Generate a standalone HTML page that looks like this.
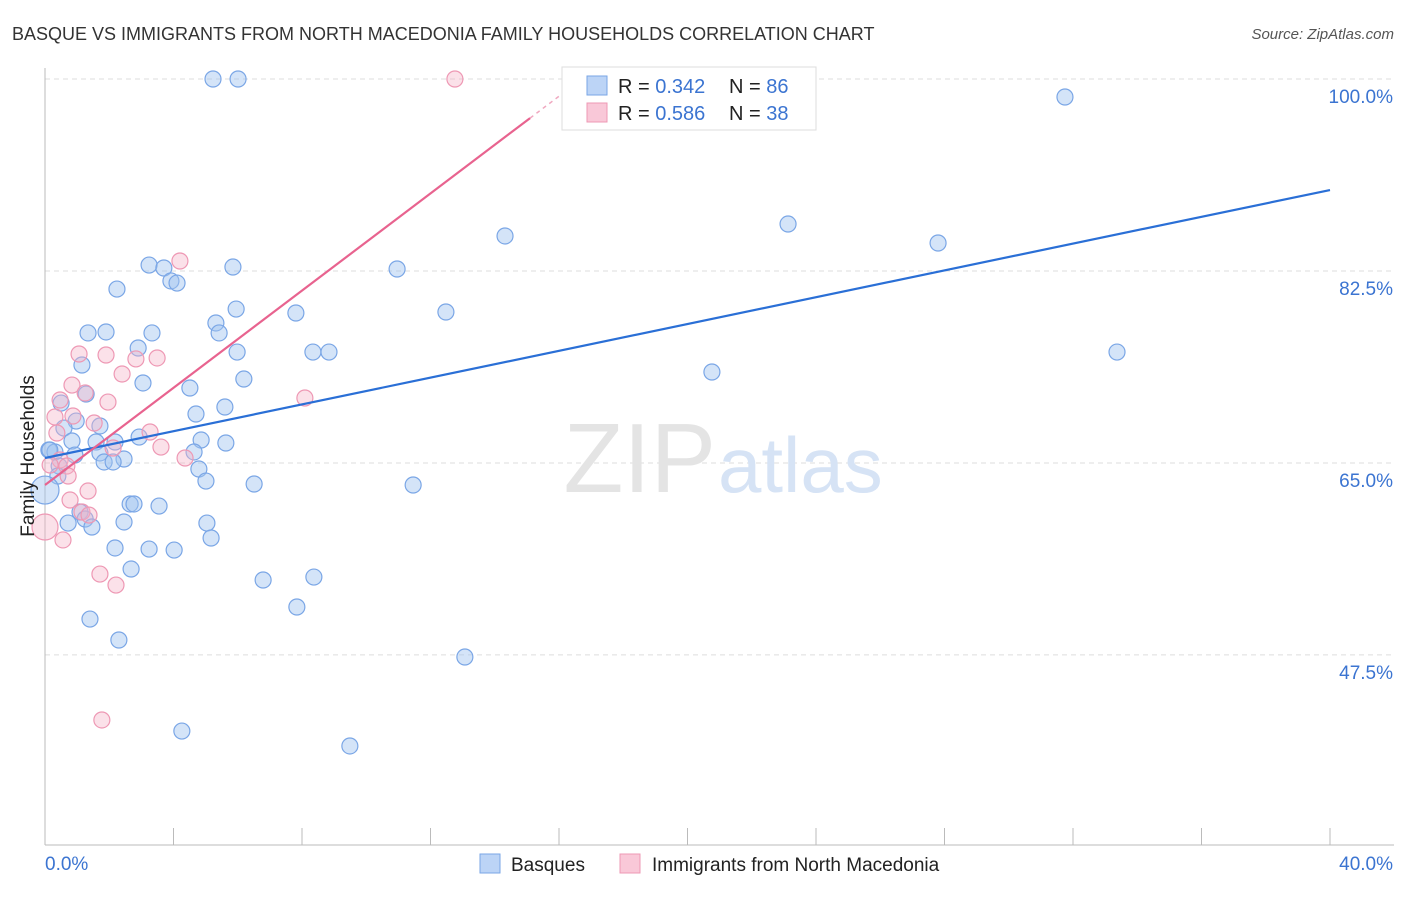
<!DOCTYPE html>
<html><head><meta charset="utf-8"><style>
body{margin:0;background:#fff;font-family:"Liberation Sans",sans-serif}
svg text{font-family:"Liberation Sans",sans-serif}
</style></head><body>
<svg id="chart" width="1406" height="892">
<text x="12" y="40" font-size="18" fill="#333">BASQUE VS IMMIGRANTS FROM NORTH MACEDONIA FAMILY HOUSEHOLDS CORRELATION CHART</text>
<text x="1394" y="39" font-size="15" fill="#555" font-style="italic" text-anchor="end">Source: ZipAtlas.com</text>
<g id="grid"></g>
<text x="716" y="492" font-size="98" font-family="Liberation Serif" fill="#e4e4e4" text-anchor="end">ZIP</text>
<text x="718" y="492" font-size="78" fill="#d6e3f5">atlas</text>
<g id="pts"></g>
<g id="lines"></g>
<text transform="translate(34,456) rotate(-90)" font-size="19" fill="#222" text-anchor="middle">Family Households</text>
<text x="45" y="870" font-size="19" fill="#3b74d1">0.0%</text>
<text x="1393" y="870" font-size="19" fill="#3b74d1" text-anchor="end">40.0%</text>
<g>
<rect x="562" y="67" width="254" height="63" fill="#fff" stroke="#ddd"/>
<rect x="587" y="76" width="20" height="19" fill="#bcd4f6" stroke="#7aa6e6"/>
<rect x="587" y="103" width="20" height="19" fill="#f9c8d8" stroke="#ee98b4"/>
<text x="618" y="93" font-size="20" fill="#222">R = <tspan fill="#3b74d1">0.342</tspan></text>
<text x="729" y="93" font-size="20" fill="#222">N = <tspan fill="#3b74d1">86</tspan></text>
<text x="618" y="120" font-size="20" fill="#222">R = <tspan fill="#3b74d1">0.586</tspan></text>
<text x="729" y="120" font-size="20" fill="#222">N = <tspan fill="#3b74d1">38</tspan></text>
</g>
<g>
<rect x="480" y="854" width="20" height="19" fill="#bcd4f6" stroke="#7aa6e6"/>
<text x="511" y="871" font-size="19" fill="#222">Basques</text>
<rect x="620" y="854" width="20" height="19" fill="#f9c8d8" stroke="#ee98b4"/>
<text x="652" y="871" font-size="19" fill="#222">Immigrants from North Macedonia</text>
</g>
</svg>
<script>
const yTicks=[100,82.5,65,47.5];
const yTickLabels=["100.0%","82.5%","65.0%","47.5%"];
const xTicks=[0,4,8,12,16,20,24,28,32,36,40];
const blueX=[5.23,6.01,31.75,14.32,23.13,27.80,10.96,3.24,3.70,5.85,3.92,4.11,2.24,5.95,7.81,12.48,1.34,1.90,3.33,5.32,5.42,2.90,5.98,8.34,8.84,33.37,1.15,3.05,6.19,20.76,4.51,0.50,1.28,4.70,5.60,0.97,0.59,2.93,1.71,0.84,1.59,2.18,4.86,5.63,4.64,0.12,0.31,0.93,1.71,2.46,1.84,2.12,0.44,4.79,5.01,6.51,11.46,0.40,2.65,2.77,3.55,1.09,1.25,1.46,0.72,2.46,5.04,5.17,2.18,3.24,4.02,2.68,6.79,8.37,7.84,1.40,2.30,13.07,4.26,9.49,0.15,0.0];
const blueY=[100,100,98.36,85.69,86.78,85.05,82.68,83.04,82.77,82.86,81.59,81.40,80.85,79.03,78.67,78.76,76.85,76.94,76.85,77.76,76.85,75.48,75.11,75.11,75.11,75.11,73.93,72.29,72.65,73.29,71.83,70.46,71.28,69.46,70.10,68.82,68.18,67.36,68.37,67.00,66.91,66.91,67.09,66.82,66.00,66.18,66.00,65.72,65.91,65.36,65.09,65.09,64.72,64.45,63.35,63.08,62.99,63.81,61.26,61.26,61.07,60.53,59.89,59.16,59.52,59.62,59.52,58.16,57.25,57.15,57.06,55.33,54.33,54.60,51.87,50.77,48.86,47.31,40.56,39.20,66.18,62.53];
const pinkX=[12.76,4.20,1.06,1.90,2.83,3.49,2.40,0.84,1.25,0.47,1.96,8.09,0.31,0.87,1.53,3.27,0.37,3.61,2.12,4.36,0.47,0.68,0.16,0.72,1.34,0.78,1.15,1.37,0.0,0.56,1.71,2.21,1.77];
const pinkY=[100,83.41,74.93,74.84,74.48,74.57,73.11,72.10,71.38,70.74,70.55,70.92,69.19,69.28,68.64,67.82,67.73,66.45,66.36,65.45,65.27,64.72,64.81,63.81,62.44,61.62,60.53,60.25,59.16,57.98,54.87,53.87,41.57];
const blueLine=[65.45,89.88];
const pinkLine=[62.99,2.215];
const X0=45,X1=1330,Y100=79,PX=10.97;
const xs=v=>X0+(X1-X0)*v/40, ys=v=>Y100+(100-v)*PX;
const NS="http://www.w3.org/2000/svg";
function mk(t,a,p){const e=document.createElementNS(NS,t);for(const k in a)e.setAttribute(k,a[k]);p.appendChild(e);return e;}
const g=document.getElementById('grid');
yTicks.forEach((t,i)=>{
 const l=mk('line',{x1:X0,x2:1394,y1:ys(t),y2:ys(t),stroke:'#ddd','stroke-dasharray':'5,4'},g);
 
 
 const tx=mk('text',{x:1393,y:ys(t)+24,'font-size':19,fill:'#3b74d1','text-anchor':'end'},g);
 tx.textContent=yTickLabels[i];
 
 
});
const ax=mk('line',{x1:X0,x2:X0,y1:68,y2:845,stroke:'#bbb'},g);


const bx=mk('line',{x1:X0,x2:1394,y1:845,y2:845,stroke:'#bbb'},g);


xTicks.forEach(t=>{
 const l=mk('line',{x1:xs(t),x2:xs(t),y1:828,y2:845,stroke:'#bbb'},g);
 
 
});
const P=document.getElementById('pts');
blueX.forEach((x,i)=>{
 const big=i===blueX.length-1;
 const c=mk('circle',{cx:xs(x),cy:ys(blueY[i]),r:big?14:8,fill:'rgba(160,195,240,0.45)',stroke:'#7aa6e6','stroke-width':1.2},P);
 
 
});
pinkX.forEach((x,i)=>{
 const big=x===0;
 const c=mk('circle',{cx:xs(x),cy:ys(pinkY[i]),r:big?13:8,fill:'rgba(245,180,200,0.4)',stroke:'#ee98b4','stroke-width':1.2},P);
 
 
});
const L=document.getElementById('lines');
const bl=mk('line',{x1:xs(0),y1:ys(blueLine[0]),x2:xs(40),y2:ys(blueLine[1]),stroke:'#2a6fd6','stroke-width':2.2},L);


const xe=15.1, xd=(100-pinkLine[0])/pinkLine[1];
const pl=mk('line',{x1:xs(0),y1:ys(pinkLine[0]),x2:xs(xe),y2:ys(pinkLine[0]+pinkLine[1]*xe),stroke:'#e8638f','stroke-width':2.2},L);


const pd=mk('line',{x1:xs(xe),y1:ys(pinkLine[0]+pinkLine[1]*xe),x2:xs(xd),y2:ys(100),stroke:'#f0a8c0','stroke-width':1.5,'stroke-dasharray':'4,4'},L);


</script>
</body></html>
